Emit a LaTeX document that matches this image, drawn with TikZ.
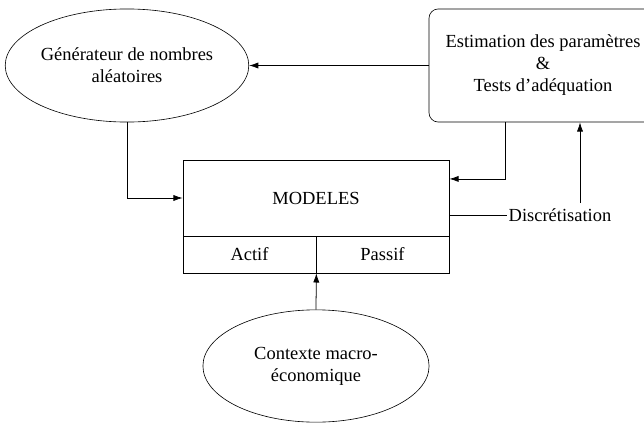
\documentclass[tikz,border=0pt]{standalone}
\usepackage{fontspec}
\setmainfont{Liberation Serif}
\usepackage{tikz}
\usetikzlibrary{arrows.meta,calc,positioning,shapes.geometric}

\begin{document}
\begin{tikzpicture}[
    x=0.65pt,
    y=-0.65pt,
    >={Latex[length=6pt,width=4pt]},
    oval/.style={draw, ellipse, align=center, inner sep=0pt, minimum width=148pt, minimum height=73.5pt, font=\fontsize{12}{14.3}\selectfont},
    rbox/.style={draw, rounded corners=6pt, align=center, minimum width=148.2pt, minimum height=73.5pt, inner sep=0pt, font=\fontsize{12}{14.3}\selectfont},
    cell/.style={draw, align=center, inner sep=0pt, font=\fontsize{12}{14.3}\selectfont},
    lbl/.style={inner sep=1pt, font=\fontsize{12}{14.3}\selectfont},
    line/.style={-{Latex[length=6pt,width=4pt]}, line width=0.5pt}
]
\useasboundingbox (0,0) rectangle (644,423);
\node[oval] (gen) at (127,65.5) {Générateur de nombres\\aléatoires};
\node[rbox] (est) at (543,65.5) {Estimation des paramètres\\\&\\Tests d’adéquation};
\node[cell, minimum width=173pt, minimum height=49.4pt] (top) at (316,198) {MODELES};
\node[cell, minimum width=86.5pt, minimum height=24pt] (actif) at (249.5,254.5) {Actif};
\node[cell, minimum width=86.5pt, minimum height=24pt] (passif) at (382.5,254.5) {Passif};
\node[oval, minimum width=147pt, minimum height=73pt] (ctx) at (316,366) {Contexte macro-\\économique};
\node[lbl] (disc) at (560,215) {Discrétisation};
\coordinate (discup) at (580,203);

\draw[line] (est.west) -- (gen.east);
\draw[line] (gen.south) |- (top.west);
\draw[line] ([xshift=-24.7pt]est.south) |- ([yshift=12.4pt]top.east);
\draw[line width=0.5pt] (disc.west) -- (disc.west -| top.east);
\draw[line] (discup) -- (discup |- est.south);
\draw[line] (ctx.north) -- (actif.south east);
\end{tikzpicture}
\end{document}
